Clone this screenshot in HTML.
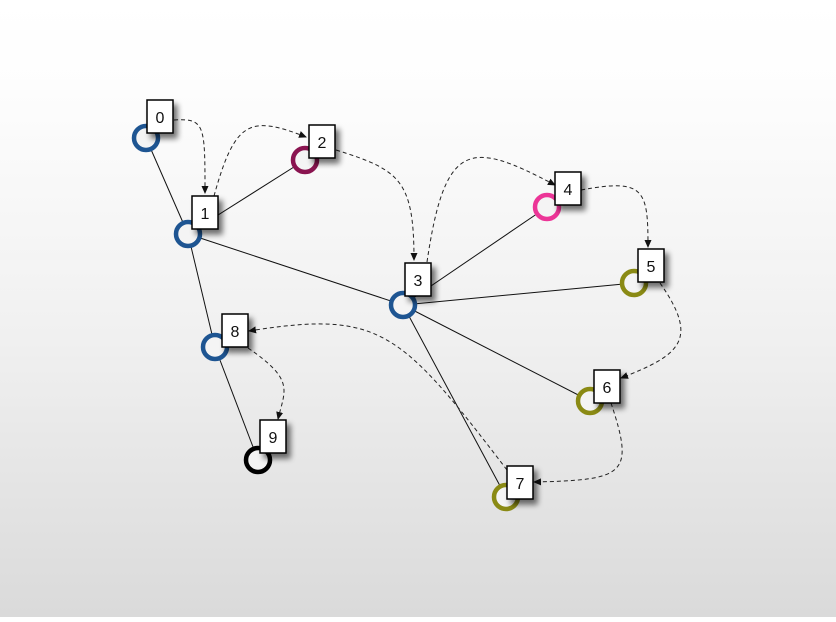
<!DOCTYPE html>
<html><head><meta charset="utf-8"><style>
html,body{margin:0;padding:0}
body{width:836px;height:617px;overflow:hidden;background:linear-gradient(to bottom,#ffffff 0%,#fdfdfd 15%,#f0f0f0 55%,#dadada 100%);font-family:"Liberation Sans",sans-serif}
</style></head><body>
<svg width="836" height="617" viewBox="0 0 836 617" xmlns="http://www.w3.org/2000/svg">
<defs>
<marker id="a" markerWidth="8" markerHeight="8" refX="7" refY="4" orient="auto" markerUnits="userSpaceOnUse">
<path d="M0,0.5 L8,4 L0,7.5 z" fill="#111"/></marker>
<filter id="s" x="-50%" y="-50%" width="220%" height="220%"><feGaussianBlur in="SourceAlpha" stdDeviation="3"/><feOffset dx="4" dy="5"/><feComponentTransfer><feFuncA type="linear" slope="0.55"/></feComponentTransfer><feMerge><feMergeNode/><feMergeNode in="SourceGraphic"/></feMerge></filter>
</defs>
<g stroke="#111" stroke-width="1" fill="none">
<line x1="146" y1="138" x2="188" y2="234"/>
<line x1="188" y1="234" x2="305" y2="160"/>
<line x1="188" y1="234" x2="403" y2="305"/>
<line x1="188" y1="234" x2="215" y2="347"/>
<line x1="215" y1="347" x2="258" y2="460"/>
<line x1="403" y1="305" x2="547" y2="207"/>
<line x1="403" y1="305" x2="634" y2="283"/>
<line x1="403" y1="305" x2="590" y2="401"/>
<line x1="403" y1="305" x2="506" y2="497"/>
</g>
<g stroke="#222" stroke-width="1" fill="none" stroke-dasharray="4,3" marker-end="url(#a)">
<path d="M174,120 C205,118 205,125 205,193"/>
<path d="M214,196 C235,120 250,115 306,137"/>
<path d="M336,150 C400,170 414,180 414,260"/>
<path d="M427,262 C445,140 470,140 555,185"/>
<path d="M581,190 C645,178 648,190 648,247"/>
<path d="M660,283 C700,340 680,355 621,378"/>
<path d="M611,403 C635,475 625,480 534,482"/>
<path d="M507,470 C400,330 380,310 249,331"/>
<path d="M248,348 C295,380 285,390 278,419"/>
</g>
<g fill="#f4f4f4" stroke-width="4.5">
<circle cx="146" cy="138" r="12" stroke="#1e5592"/>
<circle cx="188" cy="234" r="12" stroke="#1e5592"/>
<circle cx="305" cy="160" r="12" stroke="#8a1450"/>
<circle cx="403" cy="305" r="12" stroke="#1e5592"/>
<circle cx="547" cy="207" r="12" stroke="#ec3597"/>
<circle cx="634" cy="283" r="12" stroke="#8a8a14"/>
<circle cx="590" cy="401" r="12" stroke="#8a8a14"/>
<circle cx="506" cy="497" r="12" stroke="#8a8a14"/>
<circle cx="215" cy="347" r="12" stroke="#1e5592"/>
<circle cx="258" cy="460" r="12" stroke="#000"/>
</g>
<g fill="#fff" stroke="#000" stroke-width="1.5" filter="url(#s)">
<rect x="147" y="100" width="26" height="33"/>
<rect x="192" y="196" width="26" height="33"/>
<rect x="309" y="125" width="26" height="33"/>
<rect x="405" y="263" width="26" height="33"/>
<rect x="555" y="172" width="26" height="33"/>
<rect x="638" y="249" width="26" height="33"/>
<rect x="594" y="370" width="26" height="33"/>
<rect x="507" y="466" width="26" height="33"/>
<rect x="222" y="314" width="26" height="33"/>
<rect x="260" y="420" width="26" height="33"/>
</g>
<g font-size="16" fill="#111" text-anchor="middle" font-family="Liberation Sans, sans-serif">
<text x="160" y="123">0</text>
<text x="205" y="219">1</text>
<text x="322" y="148">2</text>
<text x="418" y="286">3</text>
<text x="568" y="195">4</text>
<text x="651" y="272">5</text>
<text x="607" y="393">6</text>
<text x="520" y="489">7</text>
<text x="235" y="337">8</text>
<text x="273" y="443">9</text>
</g>
</svg>
</body></html>
